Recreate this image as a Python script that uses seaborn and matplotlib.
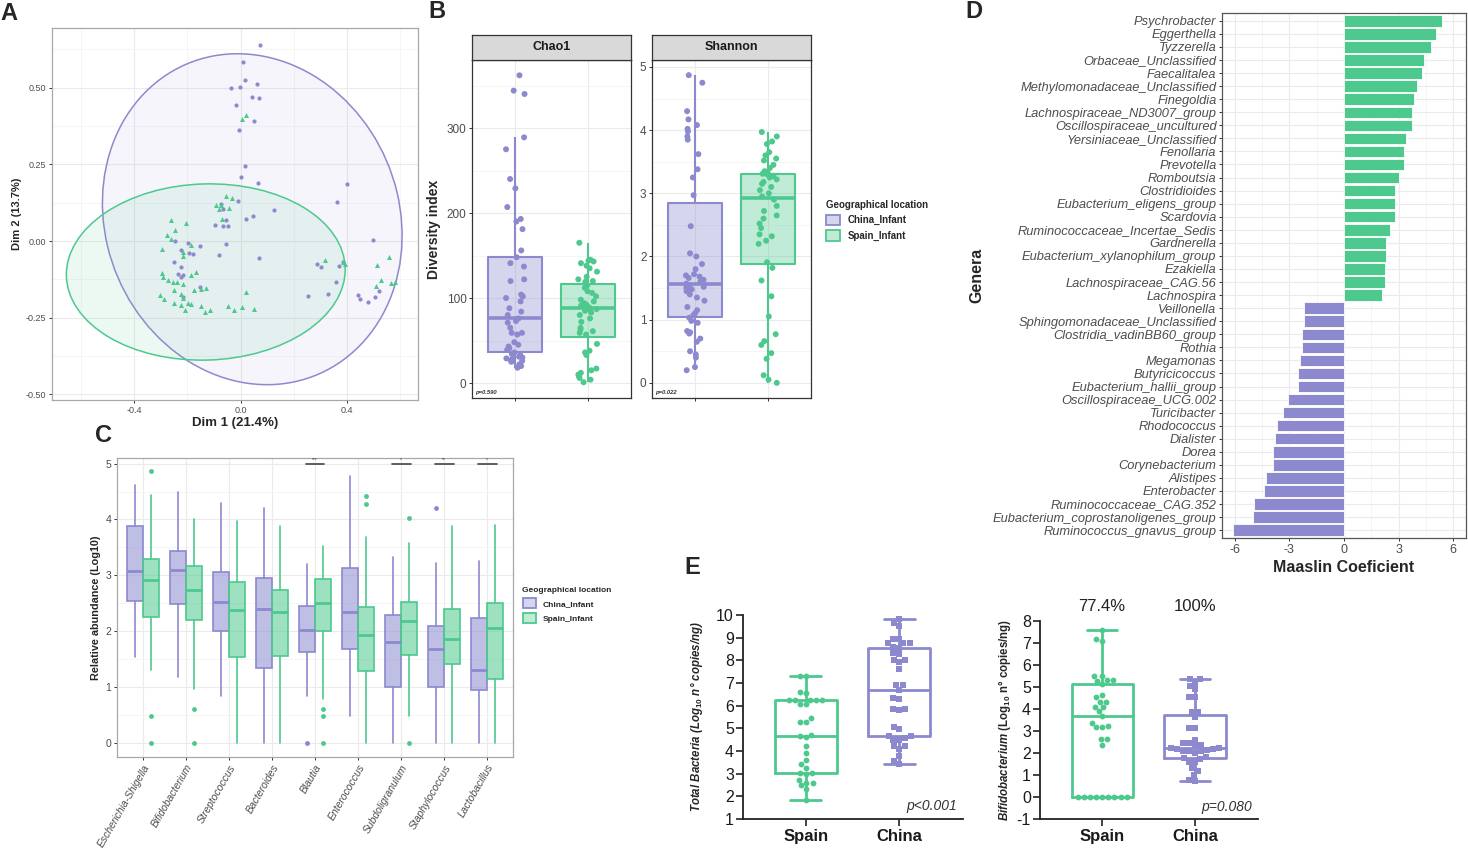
import numpy as np
import pandas as pd
import matplotlib.pyplot as plt
import seaborn as sns
from matplotlib.patches import Ellipse, Patch
from matplotlib.colors import to_rgba
from matplotlib.ticker import FormatStrFormatter, MultipleLocator

# ============================================
# COLORES Y ESTILO
# ============================================
MORADO = "#8C89CF"
VERDE = "#4DC98E"
GRIS_TXT = "#4D4D4D"

sns.set_theme(style="white")
plt.rcParams['font.family'] = ['Liberation Sans', 'DejaVu Sans']
plt.rcParams['mathtext.fontset'] = 'custom'
plt.rcParams['mathtext.rm'] = 'Liberation Sans:bold'
plt.rcParams['mathtext.it'] = 'Liberation Sans:italic:bold'
plt.rcParams['mathtext.bf'] = 'Liberation Sans:bold'

# ============================================
# DATOS
# ============================================

# --- A: PCoA (Dim 1 / Dim 2) ---
pca_china_x = [0.075, 0.010, 0.016, -0.037, -0.002, 0.060, 0.043, 0.071, -0.017, 0.052,
               -0.006, 0.016, 0.000, 0.066, 0.402, 0.364, -0.010, 0.125, 0.046, 0.022,
               -0.096, -0.068, -0.047, -0.056, -0.067, -0.075, -0.055, -0.083, 0.070, 0.497,
               0.286, 0.304, 0.369, 0.360, 0.330, 0.255, 0.441, 0.450, 0.478, 0.507,
               0.522, 0.386, -0.153, -0.199, -0.224, -0.193, -0.179, -0.248, -0.252, -0.224,
               -0.236, -0.217, -0.224, -0.154, -0.215]
pca_china_y = [0.640, 0.583, 0.524, 0.498, 0.501, 0.511, 0.468, 0.465, 0.442, 0.392,
               0.361, 0.245, 0.208, 0.189, 0.185, 0.128, 0.129, 0.101, 0.080, 0.072,
               0.052, 0.049, 0.049, 0.067, 0.105, 0.120, -0.009, -0.047, -0.054, 0.002,
               -0.074, -0.085, -0.082, -0.135, -0.172, -0.180, -0.177, -0.188, -0.199, -0.183,
               -0.164, -0.068, -0.016, -0.007, -0.030, -0.038, -0.043, 0.001, -0.068, -0.085,
               -0.107, -0.112, -0.117, -0.150, -0.183]
pca_spain_x = [0.004, 0.019, -0.056, -0.031, -0.093, -0.072, -0.081, -0.043, -0.070, -0.261,
               -0.207, -0.246, -0.277, -0.263, -0.294, -0.217, -0.188, -0.217, -0.296, -0.291,
               -0.273, -0.255, -0.238, -0.217, -0.186, -0.168, -0.174, -0.149, -0.131, -0.251,
               -0.224, -0.217, -0.302, -0.287, -0.251, -0.224, -0.199, -0.186, -0.211, -0.149,
               -0.134, -0.114, -0.048, -0.025, 0.004, 0.050, 0.019, 0.318, 0.385, 0.394,
               0.559, 0.515, 0.528, 0.509, 0.565, 0.580]
pca_spain_y = [0.399, 0.410, 0.147, 0.141, 0.116, 0.116, 0.104, 0.107, 0.073, 0.068,
               0.059, 0.035, 0.018, 0.005, -0.026, -0.036, -0.013, -0.048, -0.104, -0.117,
               -0.128, -0.132, -0.134, -0.139, -0.112, -0.101, -0.161, -0.155, -0.152, -0.161,
               -0.172, -0.185, -0.175, -0.188, -0.202, -0.207, -0.201, -0.204, -0.224, -0.212,
               -0.232, -0.226, -0.213, -0.224, -0.216, -0.221, -0.165, -0.062, -0.068, -0.074,
               -0.053, -0.079, -0.128, -0.148, -0.137, -0.134]

# elipses de confianza (China, Spain)
elipse_cx = [0.044, -0.131]
elipse_cy = [0.071, -0.101]
elipse_ancho = [1.162, 1.05]
elipse_alto = [1.042, 0.574]
elipse_angulo = [-32.6, 1.3]

# --- B: diversidad alfa ---
grupos_b = ['China_Infant', 'Spain_Infant']
chao_china = [362, 344, 340, 289, 275, 240, 229, 207, 193, 190, 181, 156, 148, 141, 137, 122,
              120, 104, 102, 100, 96, 88, 84, 80, 76, 73, 71, 65, 59, 59, 57, 48, 45, 43, 41,
              39, 36, 34, 33, 31, 30, 29, 28, 27, 26, 25, 22, 20, 18]
chao_spain = [1, 4, 6, 8, 10, 12, 15, 17, 33, 36, 38, 46, 57, 59, 61, 63, 65, 72, 76, 80, 83,
              85, 86, 87, 89, 90, 91, 92, 94, 96, 98, 102, 106, 108, 112, 115, 119, 120, 122,
              125, 131, 135, 138, 141, 143, 144, 145, 165]
shannon_china = [0.20, 0.25, 0.40, 0.45, 0.50, 0.65, 0.70, 0.78, 0.80, 0.82, 0.95, 0.98, 1.03,
                 1.07, 1.10, 1.15, 1.20, 1.30, 1.35, 1.40, 1.45, 1.48, 1.50, 1.52, 1.55,
                 1.57, 1.60, 1.63, 1.66, 1.68, 1.70, 1.72, 1.80, 1.88, 2.00, 2.05, 2.48,
                 2.97, 3.25, 3.38, 3.62, 3.85, 3.90, 3.98, 4.02, 4.08, 4.17, 4.30, 4.75, 4.87]
shannon_spain = [0.0, 0.05, 0.12, 0.38, 0.47, 0.60, 0.66, 0.77, 1.05, 1.37, 1.62, 1.82,
                 1.91, 2.20, 2.25, 2.32, 2.35, 2.45, 2.52, 2.60, 2.65, 2.72, 2.80, 2.90,
                 2.95, 3.00, 3.05, 3.10, 3.15, 3.18, 3.22, 3.25, 3.27, 3.28, 3.30, 3.31,
                 3.32, 3.35, 3.40, 3.45, 3.52, 3.55, 3.60, 3.65, 3.78, 3.82, 3.90, 3.97]
p_valores_b = ['p=0.590', 'p=0.022']

# --- C: abundancia relativa por genero (resumen de cajas) ---
generos_c = ['Escherichia-Shigella', 'Bifidobacterium', 'Streptococcus', 'Bacteroides',
             'Blautia', 'Enterococcus', 'Subdoligranulum', 'Staphylococcus', 'Lactobacillus']
c_china_lo = [1.54, 1.18, 0.85, 0.00, 0.85, 0.48, 0.00, 0.00, 0.00]
c_china_q1 = [2.55, 2.48, 2.00, 1.34, 1.63, 1.68, 1.01, 1.01, 0.94]
c_china_med = [3.08, 3.10, 2.52, 2.39, 2.02, 2.35, 1.81, 1.68, 1.30]
c_china_q3 = [3.89, 3.43, 3.06, 2.95, 2.46, 3.14, 2.29, 2.10, 2.23]
c_china_hi = [4.62, 4.49, 4.30, 4.21, 3.20, 4.77, 3.32, 3.23, 3.26]
c_china_out = [[], [], [], [], [0.0], [], [], [4.21], []]
c_spain_lo = [1.31, 0.97, 0.00, 0.00, 0.79, 0.00, 0.49, 0.00, 0.00]
c_spain_q1 = [2.25, 2.20, 1.54, 1.55, 2.00, 1.29, 1.58, 1.41, 1.15]
c_spain_med = [2.92, 2.74, 2.38, 2.35, 2.51, 1.94, 2.18, 1.87, 2.05]
c_spain_q3 = [3.30, 3.17, 2.88, 2.74, 2.94, 2.43, 2.52, 2.40, 2.51]
c_spain_hi = [4.43, 4.00, 3.97, 3.89, 3.53, 3.69, 3.58, 3.89, 3.90]
c_spain_out = [[4.86, 0.48, 0.0], [0.60, 0.0], [], [], [0.60, 0.48, 0.0], [4.42, 4.27],
               [4.02, 0.0], [], []]
sig_generos = ['Blautia', 'Subdoligranulum', 'Staphylococcus', 'Lactobacillus']
sig_etiquetas = ['***', '*', '**', '*']

# --- D: coeficientes MaAsLin ---
generos_d = ['Psychrobacter', 'Eggerthella', 'Tyzzerella', 'Orbaceae_Unclassified',
             'Faecalitalea', 'Methylomonadaceae_Unclassified', 'Finegoldia',
             'Lachnospiraceae_ND3007_group', 'Oscillospiraceae_uncultured',
             'Yersiniaceae_Unclassified', 'Fenollaria', 'Prevotella', 'Romboutsia',
             'Clostridioides', 'Eubacterium_eligens_group', 'Scardovia',
             'Ruminococcaceae_Incertae_Sedis', 'Gardnerella', 'Eubacterium_xylanophilum_group',
             'Ezakiella', 'Lachnospiraceae_CAG.56', 'Lachnospira', 'Veillonella',
             'Sphingomonadaceae_Unclassified', 'Clostridia_vadinBB60_group', 'Rothia',
             'Megamonas', 'Butyricicoccus', 'Eubacterium_hallii_group',
             'Oscillospiraceae_UCG.002', 'Turicibacter', 'Rhodococcus', 'Dialister', 'Dorea',
             'Corynebacterium', 'Alistipes', 'Enterobacter', 'Ruminococcaceae_CAG.352',
             'Eubacterium_coprostanoligenes_group', 'Ruminococcus_gnavus_group']
coef_d = [5.36, 5.05, 4.76, 4.39, 4.30, 4.02, 3.84, 3.75, 3.73, 3.40, 3.29, 3.27, 3.00,
          2.80, 2.78, 2.78, 2.54, 2.32, 2.29, 2.27, 2.23, 2.10, -2.20, -2.21, -2.30, -2.32,
          -2.41, -2.54, -2.54, -3.07, -3.35, -3.66, -3.77, -3.88, -3.90, -4.28, -4.39, -4.94,
          -5.01, -6.11]

# --- E: qPCR ---
paises_e = ['Spain', 'China']
total_spain = [1.85, 2.32, 2.48, 2.59, 2.59, 2.73, 2.98, 3.03, 3.03, 3.25, 3.42, 3.61, 3.91,
               4.24, 4.60, 4.67, 4.70, 5.30, 5.30, 5.45, 6.07, 6.07, 6.26, 6.26, 6.26, 6.26,
               6.26, 6.58, 6.62, 7.33, 7.33]
total_china = [3.42, 3.54, 3.76, 4.10, 4.20, 4.20, 4.49, 4.49, 4.57, 4.67, 4.67, 4.96, 5.08,
               5.81, 5.84, 5.84, 6.29, 6.33, 6.70, 6.92, 6.92, 7.61, 7.94, 8.02, 8.02, 8.27,
               8.34, 8.56, 8.60, 8.75, 8.75, 8.75, 8.93, 8.93, 9.52, 9.63, 9.81]
bifido_spain = [0, 0, 0, 0, 0, 0, 0, 0, 0, 2.37, 2.63, 2.63, 3.17, 3.17, 3.22, 3.35, 3.68,
                3.91, 4.10, 4.10, 4.33, 4.33, 4.53, 4.63, 5.15, 5.27, 5.31, 5.31, 5.51, 5.51,
                7.08, 7.17, 7.58]
bifido_china = [0.75, 0.78, 1.01, 1.20, 1.31, 1.61, 1.61, 1.72, 1.78, 1.80, 2.00, 2.07, 2.07,
                2.10, 2.15, 2.18, 2.20, 2.22, 2.22, 2.32, 2.37, 2.44, 2.47, 2.59, 3.12, 3.12,
                3.65, 3.88, 3.88, 4.53, 4.53, 4.90, 5.04, 5.19, 5.36, 5.36]
porcentaje_bifido = ['77.4%', '100%']
p_valores_e = ['p<0.001', 'p=0.080']

# ============================================
# FIGURA
# ============================================
W, H = 1468, 851
fig = plt.figure(figsize=(W / 100, H / 100), dpi=100)


def caja(x0, y0, x1, y1):
    """Crea unos ejes a partir de una caja en pixeles (origen arriba-izquierda)."""
    return fig.add_axes([x0 / W, 1 - y1 / H, (x1 - x0) / W, (y1 - y0) / H])


def estilo_ggplot(ax, borde='#333333', lab=7):
    ax.set_facecolor('white')
    ax.grid(True, which='major', color='#EBEBEB', lw=0.8)
    ax.grid(True, which='minor', color='#F4F4F4', lw=0.6)
    ax.set_axisbelow(True)
    for s in ax.spines.values():
        s.set_color(borde)
        s.set_linewidth(0.9)
        s.set_visible(True)
    ax.tick_params(axis='both', which='major', labelsize=lab, labelcolor=GRIS_TXT,
                   color='#333333', length=2.5, width=0.7, bottom=True, left=True, pad=1.5)
    ax.tick_params(axis='both', which='minor', length=0)


pal = {'China_Infant': MORADO, 'Spain_Infant': VERDE, 'China': MORADO, 'Spain': VERDE}

# ============================================
# A: PCoA
# ============================================
axA = caja(52, 28, 418, 400)
for cx, cy, w, h, ang, col, alfa in zip(elipse_cx, elipse_cy, elipse_ancho, elipse_alto,
                                         elipse_angulo, [MORADO, VERDE], [0.08, 0.10]):
    axA.add_patch(Ellipse((cx, cy), w, h, angle=ang, facecolor=to_rgba(col, alfa),
                          edgecolor=col, lw=1.1, zorder=1))
sns.scatterplot(x=pca_china_x, y=pca_china_y, color=MORADO, marker='o', s=9, linewidth=0,
                ax=axA, zorder=3)
sns.scatterplot(x=pca_spain_x, y=pca_spain_y, color=VERDE, marker='^', s=13, linewidth=0,
                ax=axA, zorder=3)
axA.set_xlim(-0.71, 0.668)
axA.set_ylim(-0.518, 0.694)
axA.xaxis.set_major_locator(MultipleLocator(0.4))
axA.xaxis.set_minor_locator(MultipleLocator(0.2))
axA.yaxis.set_major_locator(MultipleLocator(0.25))
axA.yaxis.set_minor_locator(MultipleLocator(0.125))
axA.xaxis.set_major_formatter(FormatStrFormatter('%.1f'))
axA.yaxis.set_major_formatter(FormatStrFormatter('%.2f'))
estilo_ggplot(axA, borde='#A8A8A8', lab=6.5)
axA.set_xlabel('Dim 1 (21.4%)', fontsize=9.5, fontweight='bold', labelpad=2)
axA.set_ylabel('Dim 2 (13.7%)', fontsize=8, fontweight='bold', labelpad=3)

# ============================================
# B: Chao1 / Shannon
# ============================================
df_b = pd.concat([
    pd.DataFrame({'indice': 'Chao1', 'grupo': 'China_Infant', 'valor': chao_china}),
    pd.DataFrame({'indice': 'Chao1', 'grupo': 'Spain_Infant', 'valor': chao_spain}),
    pd.DataFrame({'indice': 'Shannon', 'grupo': 'China_Infant', 'valor': shannon_china}),
    pd.DataFrame({'indice': 'Shannon', 'grupo': 'Spain_Infant', 'valor': shannon_spain}),
], ignore_index=True)

facetas = [('Chao1', 472, 631, (-17.6, 380), 100, 50),
           ('Shannon', 652, 811, (-0.24, 5.11), 1, 0.5)]
for k, (nombre, x0, x1, lims, paso, paso_menor) in enumerate(facetas):
    ax = caja(x0, 60, x1, 398)
    sub = df_b[df_b['indice'] == nombre]
    sns.boxplot(data=sub, x='grupo', y='valor', hue='grupo', order=grupos_b,
                hue_order=grupos_b, palette=pal, width=0.75, fill=True, linewidth=0,
                showfliers=False, showcaps=False, saturation=1, legend=False, ax=ax)
    for p in ax.patches:
        p.set_facecolor(to_rgba(p.get_facecolor()[:3], 0.35))
    sns.boxplot(data=sub, x='grupo', y='valor', hue='grupo', order=grupos_b,
                hue_order=grupos_b, palette=pal, width=0.75, fill=False, linewidth=1.5,
                showfliers=False, showcaps=False, medianprops=dict(linewidth=2.6),
                legend=False, ax=ax)
    sns.stripplot(data=sub, x='grupo', y='valor', hue='grupo', order=grupos_b,
                  hue_order=grupos_b, palette=pal, jitter=0.13, size=4.3, linewidth=0,
                  legend=False, ax=ax, zorder=4)
    ax.set_xlim(-0.6, 1.6)
    ax.set_ylim(*lims)
    ax.yaxis.set_major_locator(MultipleLocator(paso))
    ax.yaxis.set_minor_locator(MultipleLocator(paso_menor))
    estilo_ggplot(ax, lab=8.5)
    ax.set_xticklabels([])
    ax.set_xlabel('')
    ax.set_ylabel('Diversity index' if k == 0 else '', fontsize=10, fontweight='bold',
                  labelpad=4)
    ax.text(0.02, 0.012, p_valores_b[k], transform=ax.transAxes, fontsize=4.2,
            style='italic', fontweight='bold', color='#333333')
    # tira de la faceta
    tira = caja(x0, 35, x1, 60)
    tira.set_facecolor('#D9D9D9')
    tira.set_xticks([])
    tira.set_yticks([])
    for s in tira.spines.values():
        s.set_color('#333333')
        s.set_linewidth(0.9)
    tira.text(0.5, 0.5, nombre, ha='center', va='center', fontsize=9,
              fontweight='bold', color='#1A1A1A', transform=tira.transAxes)

manijas = [Patch(facecolor=to_rgba(c, 0.35), edgecolor=c, lw=1.3) for c in (MORADO, VERDE)]
fig.legend(manijas, grupos_b, title='Geographical location', loc='upper left',
           bbox_to_anchor=(817 / W, 1 - 191 / H), frameon=False,
           prop=dict(weight='bold', size=7), title_fontproperties=dict(weight='bold', size=7),
           handlelength=1.5, handleheight=1.3, labelspacing=0.5, alignment='left')

# ============================================
# C: abundancia relativa (Log10)
# ============================================
axC = caja(117, 458, 513, 757)
pos = np.arange(len(generos_c))
for desp, lo, q1, med, q3, hi, out, col in [
        (-0.1875, c_china_lo, c_china_q1, c_china_med, c_china_q3, c_china_hi, c_china_out, MORADO),
        (0.1875, c_spain_lo, c_spain_q1, c_spain_med, c_spain_q3, c_spain_hi, c_spain_out, VERDE)]:
    estad = [dict(whislo=a, q1=b, med=c, q3=d, whishi=e, fliers=f)
             for a, b, c, d, e, f in zip(lo, q1, med, q3, hi, out)]
    axC.bxp(estad, positions=pos + desp, widths=0.375, patch_artist=True, showcaps=False,
            boxprops=dict(facecolor=to_rgba(col, 0.55), edgecolor=col, linewidth=1.2),
            whiskerprops=dict(color=col, linewidth=1.2),
            medianprops=dict(color=col, linewidth=2),
            flierprops=dict(marker='o', markerfacecolor=col, markeredgecolor='none',
                            markersize=3.5),
            zorder=3)
for gen, et in zip(sig_generos, sig_etiquetas):
    i = generos_c.index(gen)
    axC.plot([i - 0.22, i + 0.22], [5, 5], color='#444444', lw=1.2, zorder=4)
    axC.text(i, 5.02, et, ha='center', va='bottom', fontsize=3.5, color='#444444')
axC.set_xlim(-0.6, 8.6)
axC.set_ylim(-0.25, 5.1)
axC.set_xticks(pos)
axC.set_xticklabels(generos_c, rotation=60, ha='right', rotation_mode='anchor',
                    style='italic')
axC.yaxis.set_major_locator(MultipleLocator(1))
axC.yaxis.set_minor_locator(MultipleLocator(0.5))
estilo_ggplot(axC, borde='#A8A8A8', lab=7.5)
axC.tick_params(axis='x', labelsize=7.5)
axC.set_ylabel('Relative abundance (Log10)', fontsize=7.8, fontweight='bold', labelpad=3)
fig.legend(manijas, grupos_b, title='Geographical location', loc='upper left',
           bbox_to_anchor=(515 / W, 1 - 579 / H), frameon=False,
           prop=dict(weight='bold', size=6), title_fontproperties=dict(weight='bold', size=6),
           handlelength=1.6, handleheight=1.5, labelspacing=0.55, alignment='left')

# ============================================
# D: MaAsLin
# ============================================
df_d = pd.DataFrame({'genero': generos_d, 'coef': coef_d})
df_d['grupo'] = np.where(df_d['coef'] > 0, 'Spain', 'China')
axD = caja(1222, 13, 1466, 538)
sns.barplot(data=df_d, x='coef', y='genero', hue='grupo', palette=pal, orient='h',
            dodge=False, width=0.88, edgecolor='white', linewidth=0.6, saturation=1,
            legend=False, ax=axD)
axD.set_xlim(-6.7, 6.7)
axD.set_ylim(39.6, -0.6)
axD.xaxis.set_major_locator(MultipleLocator(3))
axD.xaxis.set_minor_locator(MultipleLocator(1.5))
axD.xaxis.set_major_formatter(FormatStrFormatter('%d'))
estilo_ggplot(axD, borde='#555555', lab=9)
axD.grid(True, axis='y', which='major', color='#EBEBEB', lw=0.8)
axD.tick_params(axis='y', labelsize=9.3)
for t in axD.get_yticklabels():
    t.set_fontstyle('italic')
axD.set_xlabel('Maaslin Coeficient', fontsize=11.5, fontweight='bold', labelpad=3)
axD.set_ylabel('Genera', fontsize=11.5, fontweight='bold', labelpad=6)

# ============================================
# E: qPCR (estilo GraphPad)
# ============================================
df_tot = pd.concat([pd.DataFrame({'pais': 'Spain', 'valor': total_spain}),
                    pd.DataFrame({'pais': 'China', 'valor': total_china})], ignore_index=True)
df_bif = pd.concat([pd.DataFrame({'pais': 'Spain', 'valor': bifido_spain}),
                    pd.DataFrame({'pais': 'China', 'valor': bifido_china})], ignore_index=True)

paneles_e = [(df_tot, (743, 615, 963, 819), (1, 10), p_valores_e[0],
              r'$\it{Total\ Bacteria}$ (Log$_{10}$ n° copies/ng)', 8),
             (df_bif, (1040, 621, 1258, 819), (-1, 8), p_valores_e[1],
              r'$\it{Bifidobacterium}$ (Log$_{10}$ n° copies/ng)', 3)]
for k, (dfe, (x0, y0, x1, y1), lims, pval, etiqueta, pad) in enumerate(paneles_e):
    ax = caja(x0, y0, x1, y1)
    sns.boxplot(data=dfe, x='pais', y='valor', hue='pais', order=paises_e, hue_order=paises_e,
                palette=pal, fill=False, whis=(0, 100), width=0.66, linewidth=2,
                showfliers=False, legend=False, ax=ax)
    for pais, marca in zip(paises_e, ['o', 's']):
        sns.swarmplot(data=dfe[dfe['pais'] == pais], x='pais', y='valor', order=paises_e,
                      color=pal[pais], marker=marca, size=4.2, linewidth=0, ax=ax, zorder=4)
    ax.set_xlim(-0.67, 1.68)
    ax.set_ylim(*lims)
    ax.yaxis.set_major_locator(MultipleLocator(1))
    ax.yaxis.set_major_formatter(FormatStrFormatter('%d'))
    ax.set_facecolor('white')
    ax.grid(False)
    for lado in ['top', 'right']:
        ax.spines[lado].set_visible(False)
    for lado in ['left', 'bottom']:
        ax.spines[lado].set_color('#222222')
        ax.spines[lado].set_linewidth(1.3)
    ax.tick_params(axis='y', labelsize=11.5, length=5, width=1.2, color='#222222',
                   left=True, pad=1.5, labelcolor='#1A1A1A')
    ax.tick_params(axis='x', labelsize=12, length=5, width=1.2, color='#222222',
                   bottom=True, pad=2, labelcolor='#1A1A1A')
    for t in ax.get_xticklabels():
        t.set_fontweight('bold')
    ax.set_xlabel('')
    ax.set_ylabel(etiqueta, fontsize=8.3, fontweight='bold',
                  fontstyle='italic' if k == 0 else 'normal', labelpad=pad)
    ax.text(1.62, lims[0] + 0.25, pval, ha='right', va='bottom', fontsize=10,
            style='italic', color='#333333')
    if k == 1:
        for i, txt in enumerate(porcentaje_bifido):
            ax.text(i, 8.3, txt, ha='center', va='bottom', fontsize=12, color='#222222',
                    clip_on=False)

# ============================================
# LETRAS DE PANEL
# ============================================
for letra, x, y in [('A', 0, 2), ('B', 428, 0), ('C', 95, 424), ('D', 965, 0), ('E', 684, 556)]:
    fig.text(x / W, 1 - y / H, letra, fontsize=17, fontweight='bold', va='top', ha='left')

fig.savefig('out.png', dpi=100)
